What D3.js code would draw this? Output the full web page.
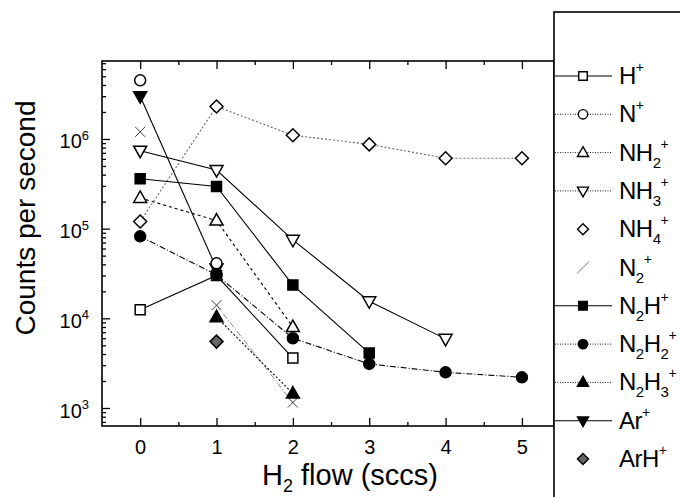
<!DOCTYPE html>
<html>
<head>
<meta charset="utf-8">
<script src="https://cdn.jsdelivr.net/npm/d3@7"></script>
<style>
  body { margin: 0; background: #fff; }
  text { font-family: Arial, "Liberation Sans", sans-serif; fill: #000; }
</style>
</head>
<body>
<script>
var width = 680,
    height = 497;

// data
var flows = [0, 1, 2, 3, 4, 5];
var ions = ["H^+", "N^+", "NH_2^+", "NH_3^+", "NH_4^+", "N_2^+", "N_2H^+", "N_2H_2^+", "N_2H_3^+", "Ar^+", "ArH^+"];
var H    = [1.25e4, 3.0e4, 3.6e3, null, null, null];
var N    = [4.5e6, 4.1e4, null, null, null, null];
var NH2  = [2.2e5, 1.23e5, 8.0e3, null, null, null];
var NH3  = [7.4e5, 4.5e5, 7.5e4, 1.55e4, 5.9e3, null];
var NH4  = [1.2e5, 2.3e6, 1.1e6, 8.7e5, 6.1e5, 6.1e5];
var N2   = [1.2e6, 1.4e4, 1.15e3, null, null, null];
var N2H  = [3.6e5, 2.95e5, 2.35e4, 4.1e3, null, null];
var N2H2 = [8.2e4, 3.05e4, 6.0e3, 3.1e3, 2.5e3, 2.2e3];
var N2H3 = [null, 1.03e4, 1.45e3, null, null, null];
var Ar   = [3.0e6, 3.6e4, null, null, null, null];
var ArH  = [null, 5.5e3, null, null, null, null];
var counts = [H, N, NH2, NH3, NH4, N2, N2H, N2H2, N2H3, Ar, ArH];
var yTicks = [1e3, 1e4, 1e5, 1e6];
var xTicks = [0, 1, 2, 3, 4, 5];

// styles
var markers = ["square", "circle", "triUp", "triDown", "diamond", "cross", "square", "circle", "triUp", "triDown", "diamond"];
var filled  = [false, false, false, false, false, false, true, true, true, true, true];
var dashes  = ["", null, "3,3", "", "2,2", "6,2,1,2", "", "6,2,1,2", "2,2", "", null];
var lineStart = [0, 0, 0, 0, 0, 1, 0, 0, 0, 0, 0];
var legDash = ["", "1,1.5", "1,1.5", "1,1.5", null, "slash", "", "1,1.5", "1,1.5", "", null];
var markerOrder = [10, 5, 8, 0, 9, 7, 1, 2, 3, 4, 6];

var svg = d3.select("body").append("svg")
    .attr("width", width)
    .attr("height", height);

var x = d3.scaleLinear().domain([-0.5, 5.42]).range([102, 554]);
var y = d3.scaleLog().domain([630, 7.4e6]).range([426, 61]);

function markerPath(type, s) {
  s = s || 1;
  var p = d3.path();
  if (type == "square") { p.rect(-5 * s, -5 * s, 10 * s, 10 * s); }
  else if (type == "circle") { p.arc(0, 0, 5.5 * s, 0, 2 * Math.PI); }
  else if (type == "triUp") { p.moveTo(0, -7 * s); p.lineTo(6.5 * s, 4.5 * s); p.lineTo(-6.5 * s, 4.5 * s); p.closePath(); }
  else if (type == "triDown") { p.moveTo(0, 7 * s); p.lineTo(6.5 * s, -4.5 * s); p.lineTo(-6.5 * s, -4.5 * s); p.closePath(); }
  else if (type == "diamond") { p.moveTo(0, -6.5 * s); p.lineTo(6.5 * s, 0); p.lineTo(0, 6.5 * s); p.lineTo(-6.5 * s, 0); p.closePath(); }
  else if (type == "cross") { p.moveTo(-5 * s, -5 * s); p.lineTo(5 * s, 5 * s); p.moveTo(-5 * s, 5 * s); p.lineTo(5 * s, -5 * s); }
  return p.toString();
}

// sub/superscript label
function richText(sel, str, subSize, supSize, subDy, supDy) {
  var mode = 0, shift = 0;
  for (var i = 0; i < str.length; i++) {
    var c = str[i];
    if (c == "_") { mode = 1; continue; }
    if (c == "^") { mode = 2; continue; }
    var t = sel.append("tspan").text(c);
    var target = mode == 1 ? subDy : mode == 2 ? supDy : 0;
    if (target != shift) { t.attr("dy", target - shift); shift = target; }
    if (mode == 1) t.style("font-size", subSize + "px");
    if (mode == 2) t.style("font-size", supSize + "px");
    mode = 0;
  }
}

// minor ticks
var yMinor = [];
[100, 1000, 10000, 100000, 1000000].forEach(function(d) {
  for (var k = 2; k < 10; k++) {
    var v = d * k;
    if (v >= 630 && v <= 7.4e6) yMinor.push(v);
  }
});
var xMinor = [0.5, 1.5, 2.5, 3.5, 4.5];

var gy = svg.append("g").attr("transform", "translate(102,0)")
    .call(d3.axisLeft(y).tickValues(yTicks).tickSizeInner(-8).tickSizeOuter(0).tickPadding(12));
svg.append("g").attr("transform", "translate(102,0)")
    .call(d3.axisLeft(y).tickValues(yMinor).tickSize(-4).tickFormat(""));
gy.selectAll(".tick text").each(function(d) {
  var t = d3.select(this).text(null).style("font-size", "20px").attr("dy", "0.45em").attr("x", -13);
  t.append("tspan").text("10");
  t.append("tspan").text(Math.round(Math.log10(d))).style("font-size", "13px").attr("dy", "-0.65em");
});

var gx = svg.append("g").attr("transform", "translate(0,426)")
    .call(d3.axisBottom(x).tickValues(xTicks).tickFormat(d3.format("d"))
      .tickSizeInner(-8).tickSizeOuter(0).tickPadding(14));
gx.selectAll(".tick text").style("font-size", "20px");
svg.append("g").attr("transform", "translate(0,426)")
    .call(d3.axisBottom(x).tickValues(xMinor).tickSize(-4).tickFormat(""));
svg.append("g").attr("transform", "translate(0,61)")
    .call(d3.axisTop(x).tickValues(xTicks).tickSize(-8).tickFormat(""));
svg.append("g").attr("transform", "translate(0,61)")
    .call(d3.axisTop(x).tickValues(xMinor).tickSize(-4).tickFormat(""));

svg.selectAll(".domain").remove();
svg.selectAll(".tick line").attr("stroke", "#000").attr("stroke-width", 1.3);

// frame
svg.append("rect")
    .attr("x", 102).attr("y", 61).attr("width", 452).attr("height", 365)
    .attr("fill", "none").attr("stroke", "#000").attr("stroke-width", 1.6);

// lines
var line = d3.line()
    .x(function(d) { return x(d.f); })
    .y(function(d) { return y(d.v); });

var series = counts.map(function(vals, i) {
  return { i: i, pts: flows.map(function(f, j) { return { f: f, v: vals[j] }; })
      .filter(function(d) { return d.v != null; }) };
});

svg.selectAll(".series-line")
    .data(series.filter(function(s) { return dashes[s.i] != null; }))
  .enter().append("path")
    .attr("class", "series-line")
    .attr("d", function(s) { return line(s.pts.slice(lineStart[s.i])); })
    .attr("fill", "none")
    .attr("stroke", function(s) { return s.i == 5 || s.i == 4 ? "#666" : "#000"; })
    .attr("stroke-width", function(s) { return s.i == 5 ? 0.8 : 1.1; })
    .attr("stroke-dasharray", function(s) { return dashes[s.i]; });

var pointData = [];
markerOrder.forEach(function(i) {
  series[i].pts.forEach(function(d) { pointData.push({ i: i, f: d.f, v: d.v }); });
});

svg.selectAll(".pt")
    .data(pointData)
  .enter().append("path")
    .attr("class", "pt")
    .attr("transform", function(d) { return "translate(" + x(d.f) + "," + y(d.v) + ")"; })
    .attr("d", function(d) { return markerPath(markers[d.i]); })
    .attr("fill", function(d) { return d.i == 10 ? "#666" : filled[d.i] ? "#000" : markers[d.i] == "cross" ? "none" : "#fff"; })
    .attr("stroke", function(d) { return markers[d.i] == "cross" ? "#444" : "#000"; })
    .attr("stroke-width", function(d) { return markers[d.i] == "cross" ? 1 : 1.5; });

// axis titles
svg.append("text")
    .attr("transform", "translate(35,218) rotate(-90)")
    .attr("text-anchor", "middle")
    .style("font-size", "28px")
    .text("Counts per second");

var xt = svg.append("text")
    .attr("x", 350).attr("y", 485)
    .attr("text-anchor", "middle")
    .style("font-size", "29px");
richText(xt, "H_2 flow (sccs)", 18, 18, 7, -11);

// legend
svg.append("rect")
    .attr("x", 554).attr("y", 12).attr("width", 200).attr("height", 600)
    .attr("fill", "#fff").attr("stroke", "#000").attr("stroke-width", 1.6);

var ly = d3.scalePoint().domain(d3.range(ions.length)).range([76, 459]);

var leg = svg.selectAll(".leg")
    .data(ions)
  .enter().append("g")
    .attr("class", "leg")
    .attr("transform", function(d, i) { return "translate(0," + ly(i) + ")"; });

leg.each(function(d, i) {
  var g = d3.select(this);
  var ds = legDash[i];
  if (ds == "slash") {
    g.append("line").attr("x1", 577).attr("y1", 6).attr("x2", 589).attr("y2", -6)
        .attr("stroke", "#555").attr("stroke-width", 0.8);
  } else if (ds != null) {
    g.append("line").attr("x1", 555).attr("x2", 612).attr("y1", 0).attr("y2", 0)
        .attr("stroke", "#000").attr("stroke-width", ds == "" ? 1.1 : 0.9)
        .attr("stroke-dasharray", ds);
  }
  if (markers[i] != "cross") {
    g.append("path")
        .attr("transform", "translate(583,0)")
        .attr("d", markerPath(markers[i], 0.85))
        .attr("fill", i == 10 ? "#666" : filled[i] ? "#000" : "#fff")
        .attr("stroke", "#000").attr("stroke-width", 1.4);
  }
  var t = g.append("text").attr("x", 619).attr("y", 8)
      .style("font-size", "24px").style("letter-spacing", "-0.5px");
  richText(t, d, 15, 14, 7, -12);
});
</script>
</body>
</html>
